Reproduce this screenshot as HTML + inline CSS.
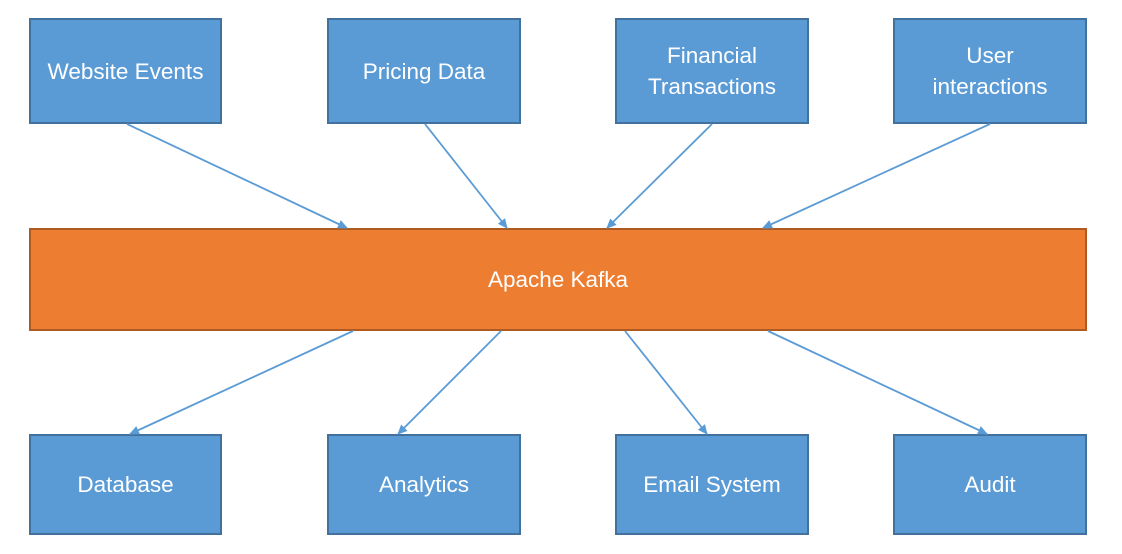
<!DOCTYPE html>
<html><head><style>
body{margin:0;width:1122px;height:554px;background:#fff;position:relative;overflow:hidden;font-family:"Liberation Sans",sans-serif;}
.b{position:absolute;box-sizing:border-box;background:#5b9bd5;border:2px solid #41719c;color:#fff;font-size:22.5px;display:flex;align-items:center;justify-content:center;text-align:center;line-height:31px;}
.k{background:#ed7d31;border-color:#ae5a21;}
svg{position:absolute;left:0;top:0;}
</style></head><body>
<div class="b" style="left:29px;top:18px;width:193px;height:106px">Website Events</div>
<div class="b" style="left:327px;top:18px;width:194px;height:106px">Pricing Data</div>
<div class="b" style="left:615px;top:18px;width:194px;height:106px">Financial<br>Transactions</div>
<div class="b" style="left:893px;top:18px;width:194px;height:106px">User<br>interactions</div>
<div class="b k" style="left:29px;top:228px;width:1058px;height:103px">Apache Kafka</div>
<div class="b" style="left:29px;top:434px;width:193px;height:101px">Database</div>
<div class="b" style="left:327px;top:434px;width:194px;height:101px">Analytics</div>
<div class="b" style="left:615px;top:434px;width:194px;height:101px">Email System</div>
<div class="b" style="left:893px;top:434px;width:194px;height:101px">Audit</div>
<svg width="1122" height="554">
<defs><marker id="a" markerWidth="10" markerHeight="10" refX="9" refY="5" orient="auto" markerUnits="userSpaceOnUse"><path d="M0,0.5L10,5L0,9.5z" fill="#5b9bd5"/></marker></defs>
<g stroke="#5b9bd5" stroke-width="1.8" marker-end="url(#a)">
<line x1="127" y1="124" x2="347" y2="228"/>
<line x1="425" y1="124" x2="507" y2="228"/>
<line x1="712" y1="124" x2="607" y2="228"/>
<line x1="990" y1="124" x2="763" y2="228"/>
<line x1="353" y1="331" x2="130" y2="434"/>
<line x1="501" y1="331" x2="398" y2="434"/>
<line x1="625" y1="331" x2="707" y2="434"/>
<line x1="768" y1="331" x2="987" y2="434"/>
</g></svg>
</body></html>
